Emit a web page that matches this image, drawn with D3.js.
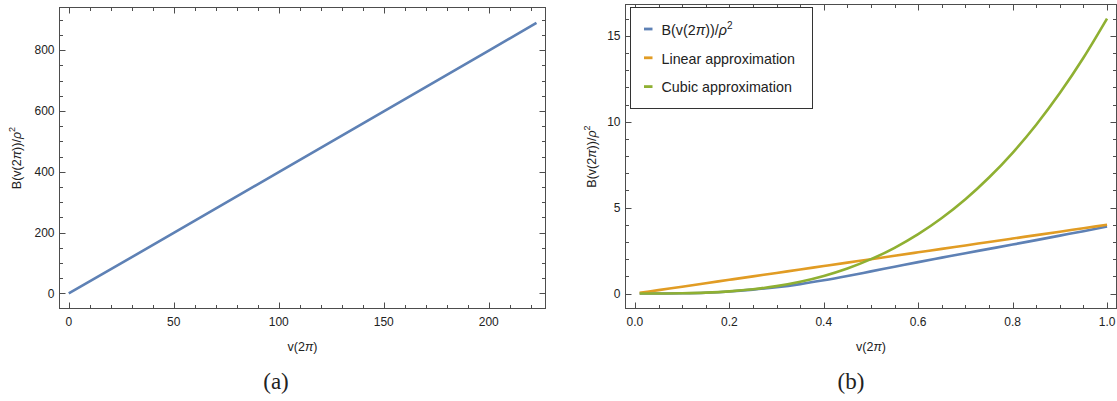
<!DOCTYPE html>
<html>
<head>
<meta charset="utf-8">
<script src="https://cdn.jsdelivr.net/npm/d3@7"></script>
<style>
  html, body { margin: 0; padding: 0; background: #fff; }
  svg { display: block; }
  text { font-family: "Liberation Sans", Arial, sans-serif; fill: #222; }
</style>
</head>
<body>
<svg id="fig" width="1117" height="401"></svg>
<script>
// ---- data ----
// panel (a): B(v(2π))/ρ² over a wide range of v(2π)
const wideV = [0, 50, 100, 150, 200, 222.7];
const wideB = [0, 199, 399, 599, 799, 890];

// panel (b): exact curve and its two approximations on [0, 1]
const smallV = [0.01, 0.05, 0.1, 0.15, 0.2, 0.25, 0.3, 0.35, 0.4, 0.45, 0.5,
                0.55, 0.6, 0.65, 0.7, 0.75, 0.8, 0.85, 0.9, 0.95, 1.0];
const exactB = [0, 0.002, 0.015, 0.05, 0.12, 0.23, 0.37, 0.55, 0.77, 1.02, 1.29,
                1.56, 1.83, 2.09, 2.35, 2.6, 2.85, 3.11, 3.37, 3.63, 3.9];
const linearB = [0.04, 0.2, 0.4, 0.6, 0.8, 1.0, 1.2, 1.4, 1.6, 1.8, 2.0,
                 2.2, 2.4, 2.6, 2.8, 3.0, 3.2, 3.4, 3.6, 3.8, 4.0];
const cubicB = [0, 0.002, 0.016, 0.054, 0.128, 0.25, 0.432, 0.686, 1.024, 1.458, 2.0,
                2.662, 3.456, 4.394, 5.488, 6.75, 8.192, 9.826, 11.664, 13.718, 16.0];

const seriesNames = ["exact", "linear", "cubic"];
const legendLabels = ["B(v(2π))/ρ²", "Linear approximation", "Cubic approximation"];

const aMajorX = [0, 50, 100, 150, 200];
const aMajorY = [0, 200, 400, 600, 800];
const bMajorX = [0, 0.2, 0.4, 0.6, 0.8, 1.0];
const bMajorY = [0, 5, 10, 15];

// ---- styles ----
const colors = { exact: "#5E81B5", linear: "#E19C24", cubic: "#8FB032" };
const frameColor = "#4d4d4d";

const svg = d3.select("#fig");

function minorTicks(lo, hi, step) {
  const out = [];
  const n = Math.round((hi - lo) / step);
  for (let i = 0; i <= n; i++) out.push(+(lo + i * step).toFixed(6));
  return out;
}

// Framed Mathematica-style panel: ticks on all four sides pointing inward,
// labels only on the left and bottom.
function panel(opts) {
  const g = svg.append("g");
  const x = d3.scaleLinear().domain(opts.xDomain).range(opts.xRange);
  const y = d3.scaleLinear().domain(opts.yDomain).range(opts.yRange);
  const [x0, x1] = opts.xRange, [y0, y1] = opts.yRange; // y0 bottom, y1 top

  const majLen = 6, minLen = 3.5;
  const ticks = g.append("g").attr("stroke", frameColor).attr("stroke-width", 1);

  function drawX(vals, len) {
    vals.forEach(v => {
      const px = Math.round(x(v)) + 0.5;
      if (px < x0 || px > x1) return;
      ticks.append("line").attr("x1", px).attr("x2", px).attr("y1", y0).attr("y2", y0 - len);
      ticks.append("line").attr("x1", px).attr("x2", px).attr("y1", y1).attr("y2", y1 + len);
    });
  }
  function drawY(vals, len) {
    vals.forEach(v => {
      const py = Math.round(y(v)) + 0.5;
      if (py > y0 || py < y1) return;
      ticks.append("line").attr("y1", py).attr("y2", py).attr("x1", x0).attr("x2", x0 + len);
      ticks.append("line").attr("y1", py).attr("y2", py).attr("x1", x1).attr("x2", x1 - len);
    });
  }
  drawX(opts.xMinor.filter(v => !opts.xMajor.includes(v)), minLen);
  drawX(opts.xMajor, majLen);
  drawY(opts.yMinor.filter(v => !opts.yMajor.includes(v)), minLen);
  drawY(opts.yMajor, majLen);

  g.append("rect")
    .attr("x", x0).attr("y", y1)
    .attr("width", x1 - x0).attr("height", y0 - y1)
    .attr("fill", "none").attr("stroke", frameColor).attr("stroke-width", 1);

  // tick labels
  g.selectAll(".xl").data(opts.xMajor).enter().append("text")
    .attr("x", d => x(d)).attr("y", y0 + 17)
    .attr("text-anchor", "middle").attr("font-size", 12)
    .text(opts.xFmt);
  g.selectAll(".yl").data(opts.yMajor).enter().append("text")
    .attr("x", x0 - 5).attr("y", d => y(d) + 4.2)
    .attr("text-anchor", "end").attr("font-size", 12)
    .text(opts.yFmt);

  // axis labels
  const xl = g.append("text")
    .attr("x", (x0 + x1) / 2).attr("y", y0 + 42)
    .attr("text-anchor", "middle").attr("font-size", 12.5);
  xl.append("tspan").text("v(2");
  xl.append("tspan").attr("font-style", "italic").text("π");
  xl.append("tspan").text(")");

  const yl = g.append("text")
    .attr("transform", `translate(${opts.yLabelX},${(y0 + y1) / 2}) rotate(-90)`)
    .attr("text-anchor", "middle").attr("font-size", 12.5);
  yl.append("tspan").text("B(v(2");
  yl.append("tspan").attr("font-style", "italic").text("π");
  yl.append("tspan").text("))/");
  yl.append("tspan").attr("font-style", "italic").text("ρ");
  yl.append("tspan").attr("font-size", 9).attr("dy", -6).text("2");

  return { g, x, y };
}

// ---- panel (a) ----
const pa = panel({
  xDomain: [-4.4, 227.0], xRange: [59.5, 545.5],
  yDomain: [-49.4, 940.6], yRange: [308.5, 7.5],
  xMajor: aMajorX, xMinor: minorTicks(0, 220, 10),
  yMajor: aMajorY, yMinor: minorTicks(0, 900, 50),
  xFmt: d => d3.format("d")(d), yFmt: d => d3.format("d")(d),
  yLabelX: 21
});
const lineA = d3.line().x((d, i) => pa.x(wideV[i])).y(d => pa.y(d));
pa.g.append("path").datum(wideB)
  .attr("d", lineA).attr("fill", "none")
  .attr("stroke", colors.exact).attr("stroke-width", 2.6);

// ---- panel (b) ----
const pb = panel({
  xDomain: [-0.02, 1.02], xRange: [625.5, 1116.5],
  yDomain: [-0.87, 16.82], yRange: [308.5, 4.5],
  xMajor: bMajorX, xMinor: minorTicks(0, 1, 0.05),
  yMajor: bMajorY, yMinor: minorTicks(0, 16, 1),
  xFmt: d => d3.format(".1f")(d), yFmt: d => d3.format("d")(d),
  yLabelX: 596
});
const seriesData = { exact: exactB, linear: linearB, cubic: cubicB };
const lineB = d3.line().curve(d3.curveMonotoneX)
  .x((d, i) => pb.x(smallV[i])).y(d => pb.y(d));
seriesNames.forEach(name => {
  pb.g.append("path").datum(seriesData[name])
    .attr("d", lineB).attr("fill", "none")
    .attr("stroke", colors[name]).attr("stroke-width", 2.6);
});

// legend
const lg = pb.g.append("g");
lg.append("rect")
  .attr("x", 630.5).attr("y", 7.5).attr("width", 182).attr("height", 101)
  .attr("fill", "#fff").attr("stroke", "#333").attr("stroke-width", 1);
legendLabels.forEach((lab, i) => {
  const cy = 29 + i * 28.8;
  lg.append("line")
    .attr("x1", 644).attr("x2", 652.5).attr("y1", cy).attr("y2", cy)
    .attr("stroke", colors[seriesNames[i]]).attr("stroke-width", 2.8);
  const t = lg.append("text").attr("x", 661.5).attr("y", cy + 5.8).attr("font-size", 14.3);
  if (i === 0) {
    t.append("tspan").text("B(v(2");
    t.append("tspan").attr("font-style", "italic").text("π");
    t.append("tspan").text("))/");
    t.append("tspan").attr("font-style", "italic").text("ρ");
    t.append("tspan").attr("font-size", 10).attr("dy", -6).text("2");
  } else {
    t.text(lab);
  }
});

// sub-figure captions
svg.append("text").attr("x", 276).attr("y", 389)
  .attr("text-anchor", "middle")
  .style("font-family", "'Liberation Serif', 'DejaVu Serif', serif")
  .attr("font-size", 23).text("(a)");
svg.append("text").attr("x", 851).attr("y", 389)
  .attr("text-anchor", "middle")
  .style("font-family", "'Liberation Serif', 'DejaVu Serif', serif")
  .attr("font-size", 23).text("(b)");
</script>
</body>
</html>
